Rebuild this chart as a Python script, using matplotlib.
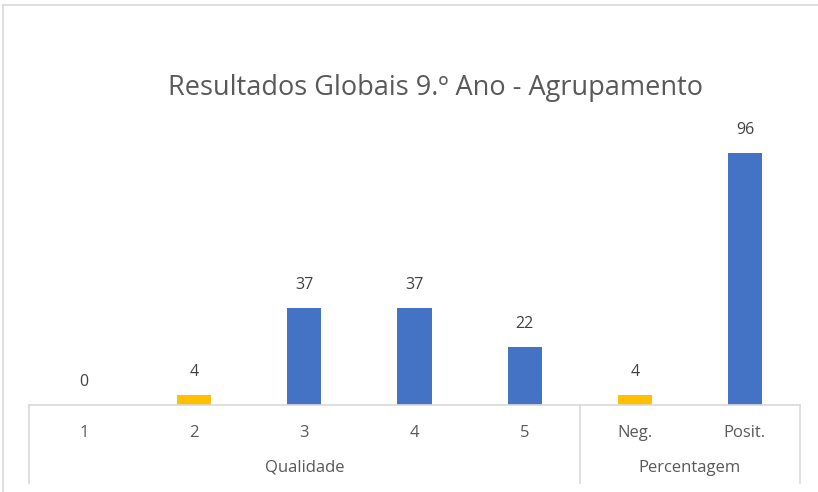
import matplotlib.pyplot as plt
from matplotlib.lines import Line2D
import matplotlib.transforms as mtransforms

categories = ["1", "2", "3", "4", "5", "Neg.", "Posit."]
values = [0, 4, 37, 37, 22, 4, 96]
bar_colors = ["#FFC000", "#FFC000", "#4472C4", "#4472C4", "#4472C4", "#FFC000", "#4472C4"]
groups = ["Qualidade", "Percentagem"]
group_sizes = [5, 2]
title = "Resultados Globais 9.º Ano - Agrupamento"

plt.rcParams["font.family"] = ["Open Sans", "DejaVu Sans"]
text_color = "#595959"
line_color = "#D9D9D9"

W, H = 818, 492
fig = plt.figure(figsize=(W / 100, H / 100), dpi=100)
ax = fig.add_axes([29 / W, 1 - 405 / H, (800 - 29) / W, (405 - 142.5) / H])

x = list(range(len(categories)))
bars = ax.bar(x, values, width=0.31, color=bar_colors)
ax.set_xlim(-0.5, len(categories) - 0.5)
ax.set_ylim(0, 100)

for rect, v in zip(bars, values):
    ax.annotate(f"{v}", (rect.get_x() + rect.get_width() / 2, v),
                xytext=(0, 16.5), textcoords="offset points",
                ha="center", va="center", fontsize=11.5, color="#404040")

for s in ax.spines.values():
    s.set_visible(False)
ax.set_xticks([])
ax.set_yticks([])

# multi-level category axis
trans = mtransforms.blended_transform_factory(ax.transData, ax.transAxes)
px = 1.0 / (405 - 142.5)  # one pixel in axes-y units
ax.add_line(Line2D([-0.5, len(categories) - 0.5], [0, 0], transform=trans,
                   color=line_color, lw=1.2, clip_on=False))
for i, c in enumerate(categories):
    ax.text(i, -28 * px, c, transform=trans, ha="center", va="center",
            fontsize=12, color=text_color)

start = -0.5
edges = [start]
for name, n in zip(groups, group_sizes):
    mid = start + n / 2
    ax.text(mid, -63 * px, name, transform=trans, ha="center", va="center",
            fontsize=12, color=text_color)
    start += n
    edges.append(start)
for e in edges:
    ax.add_line(Line2D([e, e], [0, -78 * px], transform=trans,
                       color=line_color, lw=1.2, clip_on=False))

fig.text(435 / W, 1 - 88 / H, title, ha="center", va="center",
         fontsize=19.5, color=text_color)

# chart area border (top and left visible)
fig.add_artist(Line2D([3 / W, 1], [1 - 5 / H, 1 - 5 / H], transform=fig.transFigure,
                      color=line_color, lw=1.2))
fig.add_artist(Line2D([3 / W, 3 / W], [0, 1 - 5 / H], transform=fig.transFigure,
                      color=line_color, lw=1.2))

fig.savefig("out.png", dpi=100)
